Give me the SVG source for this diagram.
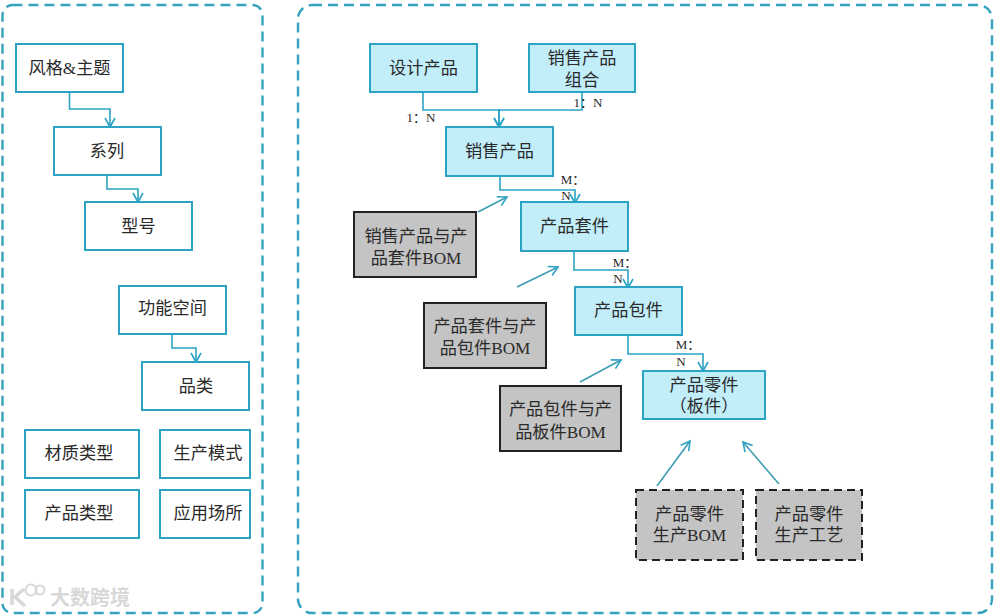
<svg xmlns="http://www.w3.org/2000/svg" width="1000" height="616" viewBox="0 0 1000 616">
<style>
text{font-family:"Liberation Serif","Noto Sans CJK SC",serif;font-size:17.2px;fill:#2a2a2a;text-anchor:middle}
.panel{fill:#fff;stroke:#35a3bd;stroke-width:2.4;stroke-dasharray:10 6}
.w{fill:#fff;stroke:#2ba3c4;stroke-width:2}
.b{fill:#c2eefa;stroke:#2ba3c4;stroke-width:2}
.g{fill:#c4c4c4;stroke:#222;stroke-width:2}
.d{fill:#c4c4c4;stroke:#222;stroke-width:2;stroke-dasharray:8 5}
.c{fill:none;stroke:#2ba3c4;stroke-width:1.6;marker-end:url(#a)}
.t{fill:none;stroke:#3f9db3;stroke-width:1.6;marker-end:url(#a)}
.l{font-size:13px}
.wm{font-family:"Noto Sans CJK SC",sans-serif;font-size:20px;font-weight:700;fill:#d8d8d8;text-anchor:start}
</style>
<defs>
<marker id="a" viewBox="0 0 12 12" refX="10" refY="6" markerWidth="12" markerHeight="12" markerUnits="userSpaceOnUse" orient="auto"><path d="M1 1L10 6L1 11" fill="none" stroke="#2ba3c4" stroke-width="1.6"/></marker>
</defs>
<rect class="panel" x="2.500" y="5" width="260" height="608" rx="10"/>
<rect class="panel" x="298" y="5" width="694" height="608" rx="14"/>
<g id="connectors">
<path class="c" d="M69.500 92V109H110V127"/>
<path class="c" d="M107 175V189H138V202"/>
<path class="c" d="M172 334V348H196V362"/>
<path class="c" d="M423 92V110H499V127"/>
<path class="c" d="M582 92V110H499V127"/>
<path class="c" d="M500 176V190H575V203"/>
<path class="c" d="M574 251V270H628V288"/>
<path class="c" d="M628 335V354H703V371"/>
<path class="t" d="M478 212L507 197"/>
<path class="t" d="M517 287L558 267"/>
<path class="t" d="M580 382L621 360"/>
<path class="t" d="M657 486L690 441"/>
<path class="t" d="M779 484L743 442"/>
</g>
<g id="n1"><rect class="w" x="16" y="44" width="107" height="48"/><text x="69.500" y="74">风格&amp;主题</text></g>
<g id="n2"><rect class="w" x="54" y="127" width="107" height="48"/><text x="107" y="157">系列</text></g>
<g id="n3"><rect class="w" x="85" y="202" width="107" height="48"/><text x="138.500" y="232">型号</text></g>
<g id="n4"><rect class="w" x="119" y="286" width="107" height="48"/><text x="172.500" y="314">功能空间</text></g>
<g id="n5"><rect class="w" x="142" y="362" width="107" height="48"/><text x="196" y="392">品类</text></g>
<g id="n6"><rect class="w" x="25" y="430" width="114" height="48"/><text x="79" y="459">材质类型</text></g>
<g id="n7"><rect class="w" x="160" y="430" width="90" height="48"/><text x="208" y="459">生产模式</text></g>
<g id="n8"><rect class="w" x="25" y="490" width="114" height="48"/><text x="79" y="519">产品类型</text></g>
<g id="n9"><rect class="w" x="160" y="490" width="90" height="48"/><text x="208" y="519">应用场所</text></g>
<g id="n10"><rect class="b" x="370" y="44" width="107" height="48"/><text x="423.500" y="74">设计产品</text></g>
<g id="n11"><rect class="b" x="529" y="44" width="106" height="48"/><text x="582" y="64">销售产品</text><text x="582" y="86">组合</text></g>
<g id="n12"><rect class="b" x="446" y="127" width="107" height="49"/><text x="499.500" y="157">销售产品</text></g>
<g id="n13"><rect class="b" x="521" y="202" width="107" height="49"/><text x="574.500" y="232">产品套件</text></g>
<g id="n14"><rect class="b" x="575" y="287" width="107" height="48"/><text x="628.500" y="316">产品包件</text></g>
<g id="n15"><rect class="b" x="643" y="371" width="122" height="48"/><text x="704" y="391">产品零件</text><text x="704" y="412">（板件）</text></g>
<g id="n16"><rect class="g" x="354" y="212" width="122" height="65"/><text x="416" y="242">销售产品与产</text><text x="416" y="264">品套件BOM</text></g>
<g id="n17"><rect class="g" x="424" y="303" width="122" height="65"/><text x="485" y="332">产品套件与产</text><text x="485" y="354">品包件BOM</text></g>
<g id="n18"><rect class="g" x="500" y="386" width="121" height="65"/><text x="560.500" y="415">产品包件与产</text><text x="560.500" y="438">品板件BOM</text></g>
<g id="n19"><rect class="d" x="636" y="490" width="107" height="70"/><text x="689.500" y="520">产品零件</text><text x="689.500" y="541">生产BOM</text></g>
<g id="n20"><rect class="d" x="756" y="490" width="106" height="70"/><text x="809" y="520">产品零件</text><text x="809" y="541">生产工艺</text></g>
<g id="labels">
<text class="l" x="421" y="122">1：N</text>
<text class="l" x="588" y="107">1：N</text>
<text class="l" x="573" y="184">M：</text><text class="l" x="566" y="200">N</text>
<text class="l" x="625" y="267">M：</text><text class="l" x="618" y="283">N</text>
<text class="l" x="688" y="349">M：</text><text class="l" x="681" y="366">N</text>
</g>
<g id="watermark">
<path d="M12 589V605M24 589L15 597L25 606" fill="none" stroke="#d8d8d8" stroke-width="3.500"/>
<circle cx="31" cy="590" r="5.500" fill="none" stroke="#d8d8d8" stroke-width="2"/>
<circle cx="40" cy="590" r="4.500" fill="none" stroke="#d8d8d8" stroke-width="2"/>
<text class="wm" x="50" y="605">大数跨境</text>
</g>
</svg>
